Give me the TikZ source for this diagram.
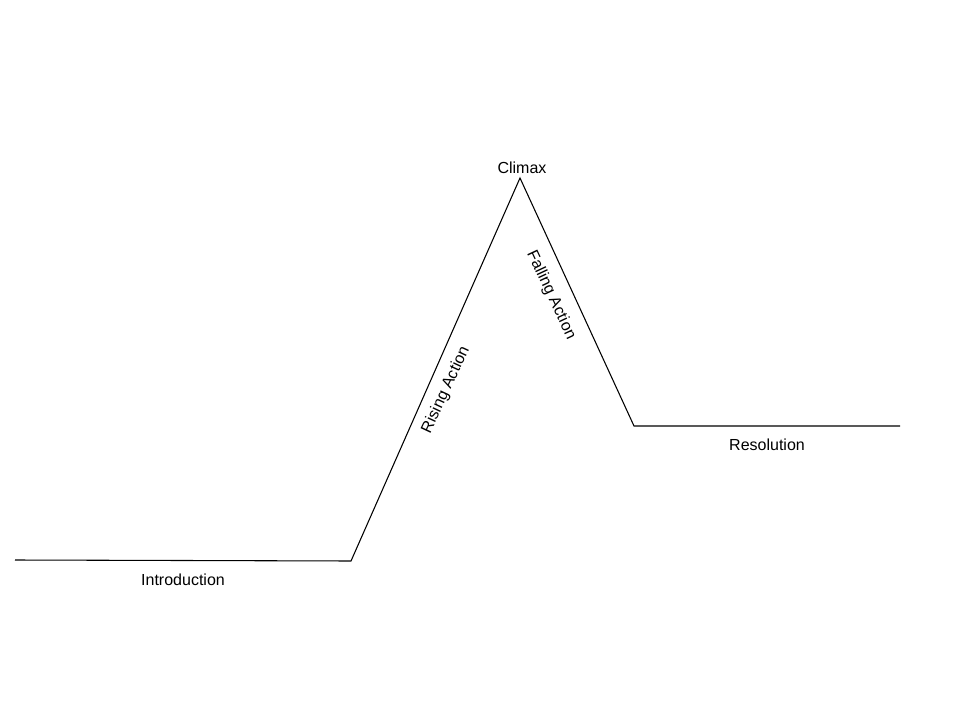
\documentclass[tikz,border=0pt]{standalone}
\usepackage{fontspec}
\setmainfont{Liberation Sans}
\begin{document}
\begin{tikzpicture}[x=0.75pt,y=-0.75pt,
  plotline/.style={line width=0.8pt,black},
  lbl/.style={font=\fontsize{12pt}{14pt}\selectfont,inner sep=0pt}]
\useasboundingbox (0,0) rectangle (960,720);
\coordinate (s) at (15,560);
\coordinate (a) at (351,561);
\coordinate (p) at (520,178);
\coordinate (b) at (634,426);
\coordinate (e) at (900,426);
\draw[plotline] (s) -- (a) -- (p) -- (b) -- (e);
\node[lbl] (climax) at (522,168) {Climax};
\node[lbl,rotate=65] (rising) at (446,390) {Rising Action};
\node[lbl,rotate=-65] (falling) at (551,295) {Falling Action};
\node[lbl] (intro) at (183,580) {Introduction};
\node[lbl] (res) at (767,445) {Resolution};
\end{tikzpicture}
\end{document}
